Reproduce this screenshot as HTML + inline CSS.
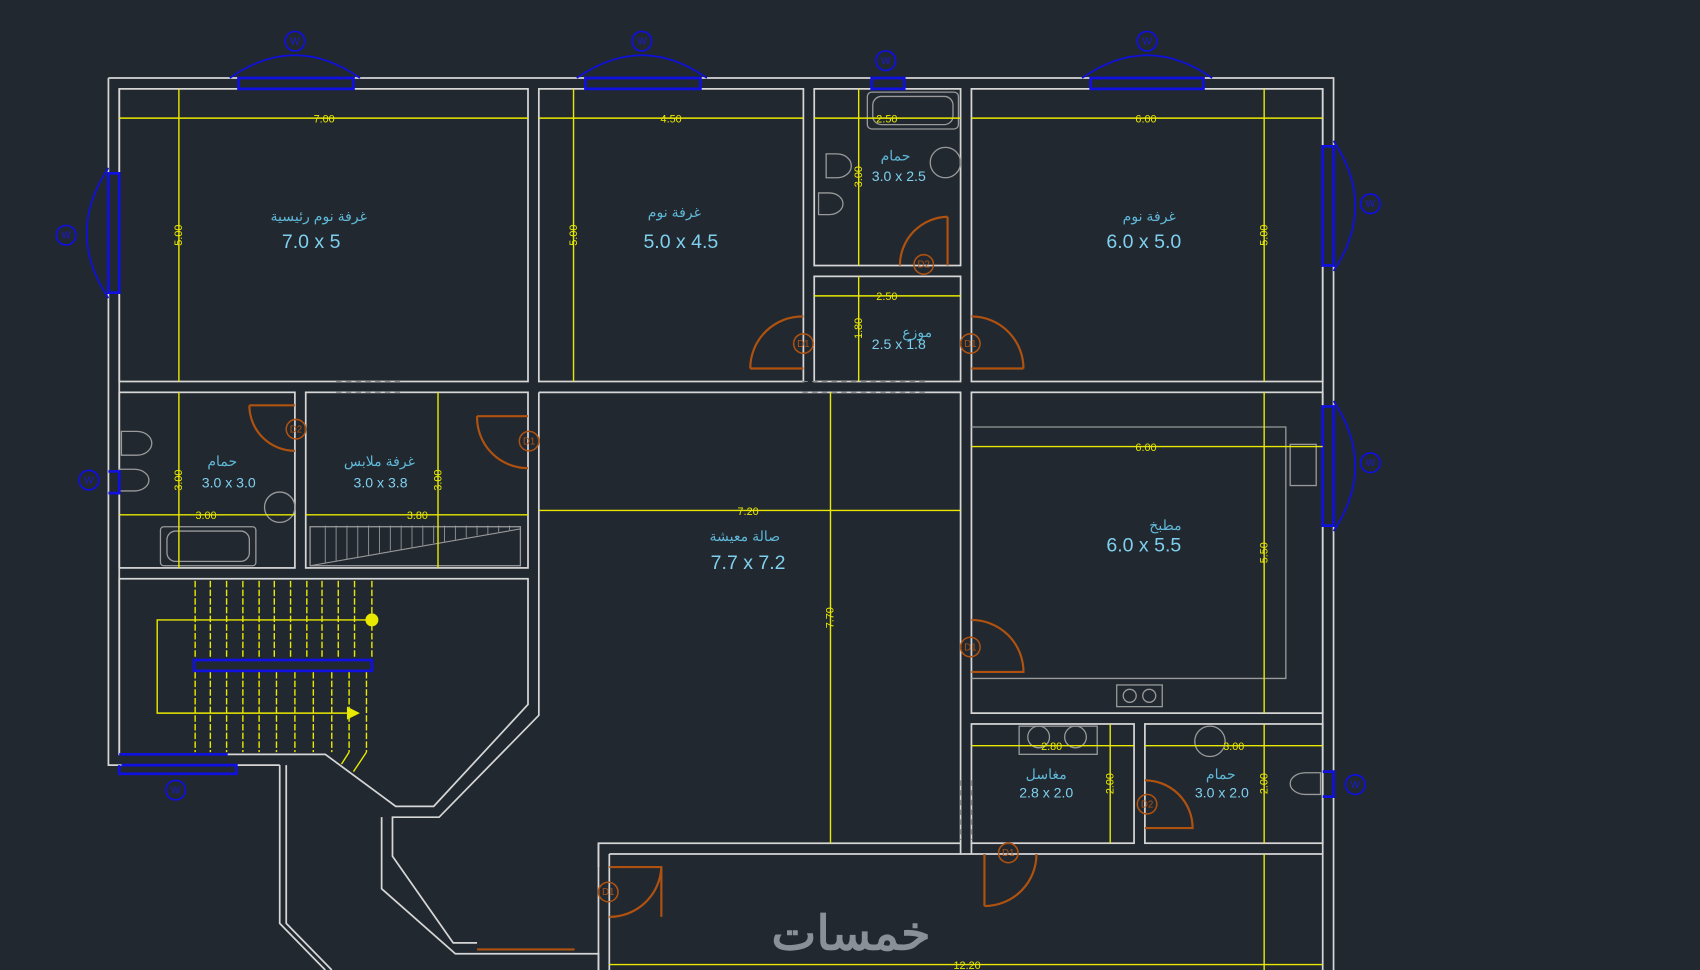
<!DOCTYPE html>
<html><head><meta charset="utf-8"><style>
html,body{margin:0;padding:0;background:#212830;}
svg{display:block}
text{font-family:"Liberation Sans","Noto Sans CJK SC",sans-serif}
.w{fill:none;stroke:#d6d6d6;stroke-width:1.6}
.y{stroke:#e8e800;stroke-width:1.3;fill:none}
.yt{fill:#e8e800;font-size:10px}
.b{stroke:#1010e0;stroke-width:2.5;fill:none}
.d{stroke:#b0520f;stroke-width:2;fill:none}
.dt{fill:none;stroke:#b0520f;stroke-width:1.4}
.lab{fill:#5fb8d8;font-size:13px}
.big{fill:#7fd0ee;font-size:18px}
.sm{fill:#7fd0ee;font-size:13px}
.g{fill:none;stroke:#9a9a9a;stroke-width:1.2}
</style></head><body>
<svg width="1700" height="970" viewBox="0 0 1568 895" preserveAspectRatio="none">
<rect width="1568" height="895" fill="#212830"/>
<!-- outer walls -->
<path class="w" d="M100 72 H1230 V895 M100 72 V706 H258 M110 82 V696"/>
<path class="w" d="M1220 82 V895"/>
<!-- rooms -->
<rect class="w" x="110" y="82" width="377" height="270"/>
<rect class="w" x="497" y="82" width="244" height="270"/>
<rect class="w" x="751" y="82" width="135" height="163"/>
<rect class="w" x="896" y="82" width="324" height="270"/>
<rect class="w" x="751" y="255" width="135" height="97"/>
<rect class="w" x="110" y="362" width="162" height="162"/>
<rect class="w" x="282" y="362" width="205" height="162"/>
<path class="w" d="M110 534 H487 V650 L400 744 H365 L300 696 H110 Z"/>
<path class="w" d="M497 362 H886 V778 H552 V800 M497 362 V660 L405 754 H362 V790 L418 870 H440"/>
<path class="w" d="M258 706 V852 L300 895 M264 706 V852 L306 895"/>
<path class="w" d="M352 754 V820 L420 880 H552 V895"/>
<rect class="w" x="896" y="362" width="324" height="296"/>
<rect class="w" x="896" y="668" width="150" height="110"/>
<rect class="w" x="1056" y="668" width="164" height="110"/>
<path class="w" d="M562 788 H1220 M562 788 V895 M552 778 V895"/>
<path class="w" d="M886 778 V788 M896 778 V788"/>
<!-- dashed openings -->
<path d="M310 352 H372 M310 362 H372 M740 352 H855 M740 362 H855" stroke="#888" stroke-dasharray="5 4"/>
<path d="M886 720 V775 M896 720 V775" stroke="#888" stroke-dasharray="5 4"/>
<!-- kitchen counter -->
<path class="g" d="M896 394 H1186 V626 H896"/>
<rect class="g" x="1030" y="632" width="42" height="20"/>
<circle class="g" cx="1042" cy="642" r="6"/><circle class="g" cx="1060" cy="642" r="6"/>
<rect class="g" x="1190" y="410" width="24" height="38"/>
<!-- fixtures -->
<rect class="g" x="800" y="85" width="84" height="34" rx="4"/>
<rect class="g" x="805" y="89" width="74" height="26" rx="8"/>
<circle class="g" cx="872" cy="150" r="14"/>
<path class="g" d="M762 142 h10 a12 10 0 0 1 0 22 h-10z M755 178 h10 a10 8 0 0 1 0 20 h-10z"/>
<path class="g" d="M112 398 h14 a14 11 0 0 1 0 22 h-14z M110 433 h14 a12 9 0 0 1 0 20 h-14z"/>
<circle class="g" cx="258" cy="468" r="14"/>
<rect class="g" x="148" y="486" width="88" height="36" rx="3"/>
<rect class="g" x="154" y="490" width="76" height="28" rx="8"/>
<rect class="g" x="286" y="486" width="194" height="36"/>
<path d="M286 522 L480 488" stroke="#9a9a9a"/>
<path d="M300 520 V485 M310 518 V485 M320 516 V485 M330 514 V485 M340 512 V485 M350 510 V485 M360 508 V485 M370 507 V485 M380 505 V485 M390 503 V485 M400 501 V485 M410 500 V485 M420 498 V485 M430 496 V485 M440 494 V485 M450 493 V485 M460 491 V485 M470 489 V485" stroke="#9a9a9a" stroke-width="0.8"/>
<rect class="g" x="940" y="670" width="72" height="26"/>
<circle class="g" cx="958" cy="680" r="10"/><circle class="g" cx="992" cy="680" r="10"/>
<circle class="g" cx="1116" cy="684" r="14"/>
<path class="g" d="M1218 713 h-14 a14 10 0 0 0 0 20 h14z"/>
<!-- stairs -->
<g stroke="#e8e800" stroke-width="1.3" stroke-dasharray="6 2">
<path d="M180 536 V610 M194 536 V610 M209 536 V610 M224 536 V610 M239 536 V610 M253 536 V610 M268 536 V610 M283 536 V610 M297 536 V610 M312 536 V610 M327 536 V610 M343 536 V610"/>
<path d="M180 620 V694 M194 620 V694 M209 620 V694 M224 620 V694 M239 620 V694 M255 620 V694 M272 620 V694 M289 620 V694 M306 620 V694 M322 620 V694 M338 620 V694"/>
</g>
<path class="y" d="M343 572 H145 V658 H320 M322 694 L315 705 M338 694 L326 712"/>
<circle cx="343" cy="572" r="6" fill="#e8e800"/>
<path d="M320 652 L332 658 L320 664Z" fill="#e8e800"/>
<rect class="b" x="179" y="609" width="164" height="10" stroke-width="2.5"/>
<!-- windows -->
<g class="b">
<path d="M220 72 V82 H326 V72 Z M540 72 V82 H646 V72 Z M1006 72 V82 H1110 V72 Z M804 72 V82 H834 V72 Z"/>
<path d="M100 160 H110 V270 H100 Z M1220 135 H1230 V245 H1220 Z M1220 375 H1230 V485 H1220 Z"/>
<path d="M110 696 H210 M112 706 H218 V714 H110 V706"/>
<path d="M100 435 H110 V455 H100 M1220 712 H1230 V735 H1220"/>
</g>
<g stroke="#1010e0" stroke-width="1.6" fill="none">
<path d="M212 72 Q272 30 332 72 M532 72 Q592 30 652 72 M998 72 Q1058 30 1118 72"/>
<path d="M100 155 Q60 215 100 275 M1230 130 Q1270 190 1230 250 M1230 370 Q1270 430 1230 490"/>
<circle cx="272" cy="38" r="9"/><circle cx="592" cy="38" r="9"/><circle cx="1058" cy="38" r="9"/><circle cx="817" cy="56" r="9"/>
<circle cx="61" cy="217" r="9"/><circle cx="1264" cy="188" r="9"/><circle cx="1264" cy="427" r="9"/>
<circle cx="82" cy="443" r="9"/><circle cx="162" cy="729" r="9"/><circle cx="1250" cy="724" r="9"/>
</g>
<g fill="#1a1ad8" font-size="9" text-anchor="middle">
<text x="272" y="41">W</text><text x="592" y="41">W</text><text x="1058" y="41">W</text><text x="817" y="59">W</text><text x="61" y="220">W</text><text x="1264" y="191">W</text><text x="1264" y="430">W</text><text x="82" y="446">W</text><text x="162" y="732">W</text><text x="1250" y="727">W</text>
</g>
<!-- doors -->
<path class="d" d="M692 340 H741 M741 292 A48 48 0 0 0 692 340"/>
<path class="d" d="M944 340 H896 M896 292 A48 48 0 0 1 944 340"/>
<path class="d" d="M874 200 V245 M874 200 A45 45 0 0 0 830 245"/>
<path class="d" d="M230 374 H272 M230 374 A42 42 0 0 0 272 416"/>
<path class="d" d="M440 384 H487 M440 384 A47 47 0 0 0 487 432"/>
<path class="d" d="M896 572 A48 48 0 0 1 944 620 H896"/>
<path class="d" d="M1056 720 A44 44 0 0 1 1100 764 H1056"/>
<path class="d" d="M908 788 V836 M908 836 A48 48 0 0 0 956 788"/>
<path class="d" d="M562 800 H610 V846 M562 846 A48 48 0 0 0 610 800"/>
<path class="d" d="M440 876 H530" stroke-width="3"/>
<g class="dt"><circle cx="741" cy="317" r="9"/><circle cx="895" cy="317" r="9"/><circle cx="852" cy="244" r="9"/><circle cx="273" cy="396" r="9"/><circle cx="488" cy="407" r="9"/><circle cx="895" cy="597" r="9"/><circle cx="1058" cy="742" r="9"/><circle cx="930" cy="787" r="9"/><circle cx="561" cy="823" r="9"/></g>
<g fill="#b0520f" font-size="9" text-anchor="middle">
<text x="741" y="320">D1</text><text x="895" y="320">D1</text><text x="852" y="247">D2</text><text x="273" y="399">D2</text><text x="488" y="410">D1</text><text x="895" y="600">D1</text><text x="1058" y="745">D2</text><text x="930" y="790">D1</text><text x="561" y="826">D1</text>
</g>
<!-- dimension lines -->
<g class="y">
<path d="M110 109 H487 M497 109 H741 M751 109 H886 M896 109 H1220"/>
<path d="M165 82 V352 M529 82 V352 M792 82 V245 M1166 82 V352"/>
<path d="M751 273 H886 M792 255 V352"/>
<path d="M110 475 H272 M282 475 H487 M165 362 V524 M404 362 V524"/>
<path d="M497 471 H886 M766 362 V778"/>
<path d="M896 412 H1220 M1166 362 V658"/>
<path d="M896 688 H1046 M1056 688 H1220 M1024 668 V778 M1166 668 V778"/>
<path d="M562 890 H1220 M1166 788 V895"/>
</g>
<g class="yt" text-anchor="middle">
<text x="299" y="113">7.00</text><text x="619" y="113">4.50</text><text x="818" y="113">2.50</text><text x="1057" y="113">6.00</text>
<text x="818" y="277">2.50</text><text x="190" y="479">3.00</text><text x="385" y="479">3.80</text>
<text x="690" y="475">7.20</text><text x="1057" y="416">6.00</text><text x="970" y="692">2.80</text><text x="1138" y="692">3.00</text><text x="892" y="894">12.20</text>
<text transform="translate(168 217) rotate(-90)">5.00</text>
<text transform="translate(532 217) rotate(-90)">5.00</text>
<text transform="translate(795 163) rotate(-90)">3.00</text>
<text transform="translate(1169 217) rotate(-90)">5.00</text>
<text transform="translate(795 303) rotate(-90)">1.80</text>
<text transform="translate(168 443) rotate(-90)">3.00</text>
<text transform="translate(407 443) rotate(-90)">3.00</text>
<text transform="translate(769 570) rotate(-90)">7.70</text>
<text transform="translate(1169 510) rotate(-90)">5.50</text>
<text transform="translate(1027 723) rotate(-90)">2.00</text>
<text transform="translate(1169 723) rotate(-90)">2.00</text>
</g>
<!-- labels -->
<g text-anchor="middle">
<text class="lab" x="294" y="204">غرفة نوم رئيسية</text><text class="big" x="287" y="229">7.0 x 5</text>
<text class="lab" x="622" y="200">غرفة نوم</text><text class="big" x="628" y="229">5.0 x 4.5</text>
<text class="lab" x="1060" y="204">غرفة نوم</text><text class="big" x="1055" y="229">6.0 x 5.0</text>
<text class="lab" x="826" y="148">حمام</text><text class="sm" x="829" y="167">3.0 x 2.5</text>
<text class="lab" x="846" y="311">موزع</text><text class="sm" x="829" y="322">2.5 x 1.8</text>
<text class="lab" x="205" y="430">حمام</text><text class="sm" x="211" y="450">3.0 x 3.0</text>
<text class="lab" x="350" y="430">غرفة ملابس</text><text class="sm" x="351" y="450">3.0 x 3.8</text>
<text class="lab" x="687" y="499">صالة معيشة</text><text class="big" x="690" y="525">7.7 x 7.2</text>
<text class="lab" x="1075" y="489">مطبخ</text><text class="big" x="1055" y="509">6.0 x 5.5</text>
<text class="lab" x="965" y="719">مغاسل</text><text class="sm" x="965" y="736">2.8 x 2.0</text>
<text class="lab" x="1126" y="719">حمام</text><text class="sm" x="1127" y="736">3.0 x 2.0</text>
<text x="785" y="876" fill="#8a9098" font-size="44" font-weight="bold">خمسات</text>
</g>
</svg>
</body></html>
